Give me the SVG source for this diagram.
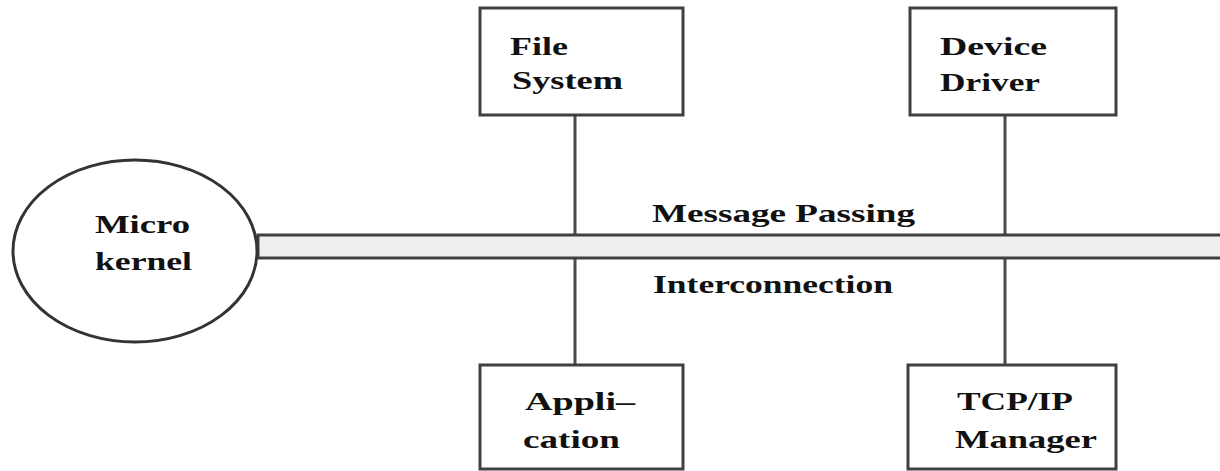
<svg xmlns="http://www.w3.org/2000/svg" width="1220" height="471" viewBox="0 0 1220 471">
  <style>
    .box { fill: #ffffff; stroke: #404040; stroke-width: 3; }
    .kernel { fill: #ffffff; stroke: #333333; stroke-width: 3; }
    .link { stroke: #4a4a4a; stroke-width: 3; fill: none; }
    .bus { fill: #efefef; stroke: #404040; stroke-width: 3; }
    .lbl { font-family: "Liberation Serif", "Times New Roman", serif; font-weight: bold; font-size: 26px; fill: #111111; }
  </style>

  <!-- vertical links from each server to the bus -->
  <g id="connectors">
    <line class="link" x1="575" y1="115" x2="575" y2="365"/>
    <line class="link" x1="1005" y1="115" x2="1005" y2="365"/>
  </g>

  <!-- message passing interconnection bus -->
  <g id="bus">
    <rect class="bus" x="258" y="235" width="975" height="23"/>
    <text class="lbl" x="652" y="222" textLength="263" lengthAdjust="spacingAndGlyphs">Message Passing</text>
    <text class="lbl" x="653" y="293" textLength="240" lengthAdjust="spacingAndGlyphs">Interconnection</text>
  </g>

  <g id="microkernel">
    <ellipse class="kernel" cx="135" cy="251" rx="122" ry="91"/>
    <text class="lbl" x="95" y="233" textLength="95" lengthAdjust="spacingAndGlyphs">Micro</text>
    <text class="lbl" x="95" y="270" textLength="97" lengthAdjust="spacingAndGlyphs">kernel</text>
  </g>

  <g id="file-system">
    <rect class="box" x="480" y="8" width="203" height="107"/>
    <text class="lbl" x="510" y="55" textLength="58" lengthAdjust="spacingAndGlyphs">File</text>
    <text class="lbl" x="512" y="89" textLength="111" lengthAdjust="spacingAndGlyphs">System</text>
  </g>

  <g id="device-driver">
    <rect class="box" x="910" y="8" width="206" height="107"/>
    <text class="lbl" x="940" y="55" textLength="107" lengthAdjust="spacingAndGlyphs">Device</text>
    <text class="lbl" x="940" y="91" textLength="100" lengthAdjust="spacingAndGlyphs">Driver</text>
  </g>

  <g id="application">
    <rect class="box" x="480" y="365" width="203" height="104"/>
    <text class="lbl" x="525" y="410" textLength="110" lengthAdjust="spacingAndGlyphs">Appli–</text>
    <text class="lbl" x="523" y="448" textLength="97" lengthAdjust="spacingAndGlyphs">cation</text>
  </g>

  <g id="tcpip-manager">
    <rect class="box" x="908" y="365" width="208" height="104"/>
    <text class="lbl" x="957" y="410" textLength="116" lengthAdjust="spacingAndGlyphs">TCP/IP</text>
    <text class="lbl" x="955" y="448" textLength="142" lengthAdjust="spacingAndGlyphs">Manager</text>
  </g>
</svg>
